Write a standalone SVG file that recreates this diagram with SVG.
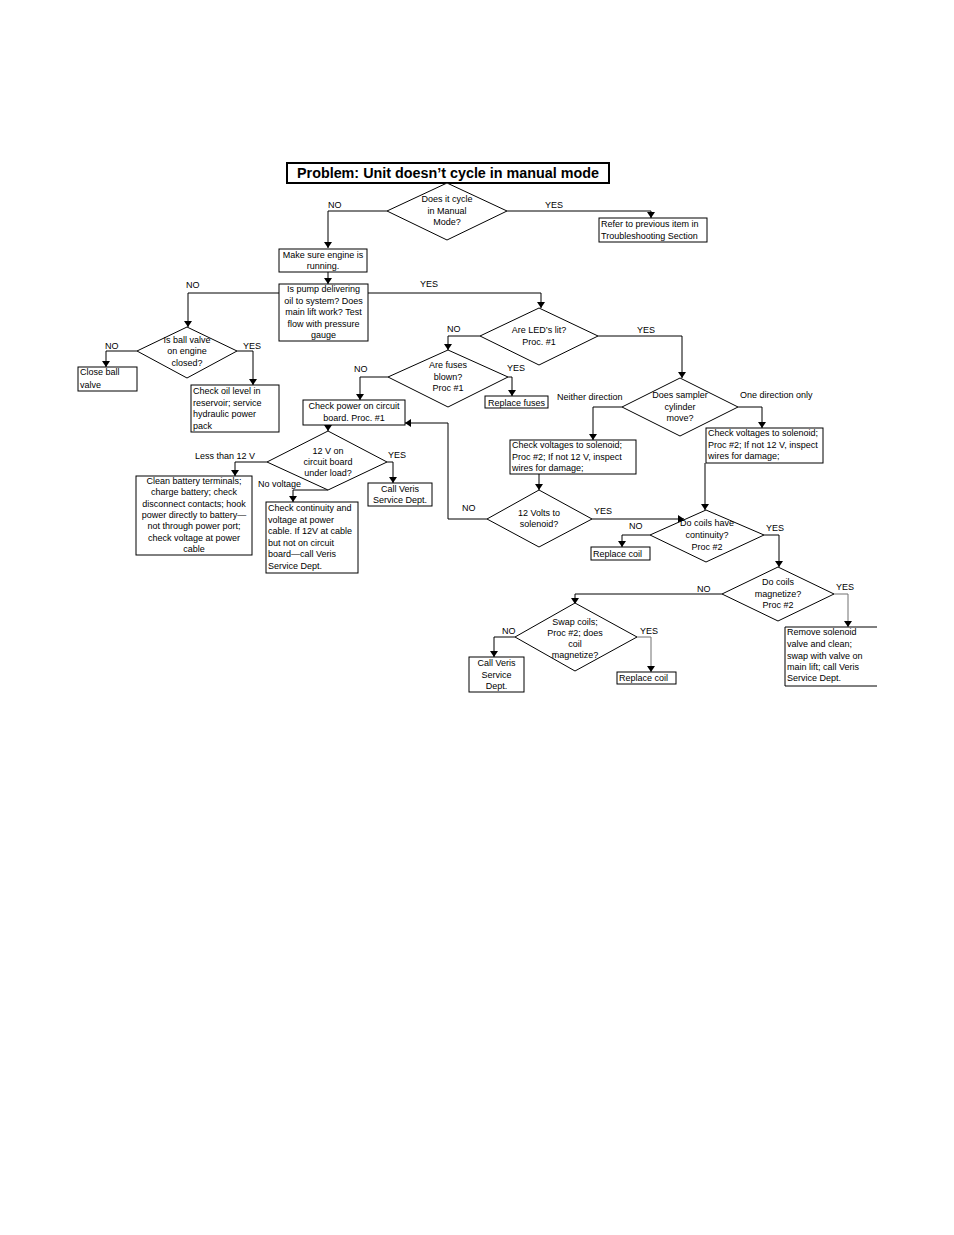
<svg xmlns="http://www.w3.org/2000/svg" width="954" height="1235" viewBox="0 0 954 1235">
<style>
text{font-family:"Liberation Sans",Arial,sans-serif;font-size:9px;fill:#000}
.c{text-anchor:middle}
.box,.dia{fill:#fff;stroke:#000;stroke-width:1}
.ln{fill:none;stroke:#000;stroke-width:1}
.gr{fill:none;stroke:#707070;stroke-width:1}
.title{font-size:14px;font-weight:bold}
</style>
<defs>
<marker id="ah" viewBox="0 0 6 8" refX="6" refY="4" markerWidth="6" markerHeight="8" markerUnits="userSpaceOnUse" orient="auto"><path d="M0,0 L6,4 L0,8 z" fill="#000"/></marker>
</defs>
<rect width="954" height="1235" fill="#fff"/>

<g id="connectors">
<path class="ln" d="M387,211 H328 V248" marker-end="url(#ah)"/>
<path class="ln" d="M507,211 H651 V218" marker-end="url(#ah)"/>
<path class="ln" d="M328,272 V284" marker-end="url(#ah)"/>
<path class="ln" d="M279,293 H188 V327" marker-end="url(#ah)"/>
<path class="ln" d="M368,293 H541 V308" marker-end="url(#ah)"/>
<path class="ln" d="M137,351 H106 V367" marker-end="url(#ah)"/>
<path class="ln" d="M237,351 H253 V385" marker-end="url(#ah)"/>
<path class="ln" d="M480,336 H448 V350" marker-end="url(#ah)"/>
<path class="ln" d="M598,336 H682 V378" marker-end="url(#ah)"/>
<path class="ln" d="M388,377 H360 V400" marker-end="url(#ah)"/>
<path class="ln" d="M508,377 H512 V396" marker-end="url(#ah)"/>
<path class="ln" d="M328,425 V431" marker-end="url(#ah)"/>
<path class="ln" d="M267,462 H235 V476" marker-end="url(#ah)"/>
<path class="ln" d="M387,462 H393 V483" marker-end="url(#ah)"/>
<path class="ln" d="M328,490 H293 V502" marker-end="url(#ah)"/>
<path class="ln" d="M622,407 H593 V440" marker-end="url(#ah)"/>
<path class="ln" d="M738,407 H762 V428" marker-end="url(#ah)"/>
<path class="ln" d="M539,474 V490" marker-end="url(#ah)"/>
<path class="ln" d="M487,519 H448 V423 H405" marker-end="url(#ah)"/>
<path class="ln" d="M592,519 H684" marker-end="url(#ah)"/>
<path class="ln" d="M705,463 V510" marker-end="url(#ah)"/>
<path class="ln" d="M650,535 H622 V547" marker-end="url(#ah)"/>
<path class="ln" d="M764,535 H779 V567" marker-end="url(#ah)"/>
<path class="ln" d="M722,594 H575 V604" marker-end="url(#ah)"/>
<path class="gr" d="M834,594 H848 V627" marker-end="url(#ah)"/>
<path class="ln" d="M515,637 H494 V657" marker-end="url(#ah)"/>
<path class="gr" d="M637,637 H651 V672" marker-end="url(#ah)"/>
<text x="328" y="208">NO</text>
<text x="545" y="208">YES</text>
<text x="186" y="288">NO</text>
<text x="420" y="287">YES</text>
<text x="105" y="349">NO</text>
<text x="243" y="349">YES</text>
<text x="447" y="332">NO</text>
<text x="637" y="333">YES</text>
<text x="354" y="372">NO</text>
<text x="507" y="371">YES</text>
<text x="195" y="459">Less than 12 V</text>
<text x="388" y="458">YES</text>
<text x="258" y="487">No voltage</text>
<text x="557" y="400">Neither direction</text>
<text x="740" y="398">One direction only</text>
<text x="462" y="511">NO</text>
<text x="594" y="514">YES</text>
<text x="629" y="529">NO</text>
<text x="766" y="531">YES</text>
<text x="697" y="592">NO</text>
<text x="836" y="590">YES</text>
<text x="502" y="634">NO</text>
<text x="640" y="634">YES</text>
</g>

<g id="title">
<rect x="287" y="163" width="322" height="20" fill="#fff" stroke="#000" stroke-width="2"/>
<text class="c title" x="448" y="178" textLength="302" lengthAdjust="spacingAndGlyphs">Problem:  Unit doesn’t cycle in manual mode</text>
</g>

<g id="d-cycle">
<polygon class="dia" points="447,183 507,211 447,240 387,211"/>
<text class="c" x="447" y="202">Does it cycle</text>
<text class="c" x="447" y="214">in Manual</text>
<text class="c" x="447" y="225">Mode?</text>
</g>

<g id="b-refer">
<rect class="box" x="599" y="218" width="108" height="24"/>
<text x="601" y="227">Refer to previous item in</text>
<text x="601" y="239">Troubleshooting Section</text>
</g>

<g id="b-engine">
<rect class="box" x="279" y="249" width="88" height="23"/>
<text class="c" x="323" y="258">Make sure engine is</text>
<text class="c" x="323" y="269">running.</text>
</g>

<g id="b-pump">
<rect class="box" x="279" y="284" width="89" height="57"/>
<text class="c" x="323.5" y="292">Is pump delivering</text>
<text class="c" x="323.5" y="303.5">oil to system? Does</text>
<text class="c" x="323.5" y="315">main lift work? Test</text>
<text class="c" x="323.5" y="326.5">flow with pressure</text>
<text class="c" x="323.5" y="338">gauge</text>
</g>

<g id="d-ball">
<polygon class="dia" points="187,327 237,351 187,378 137,351"/>
<text class="c" x="187" y="343">Is ball valve</text>
<text class="c" x="187" y="354">on engine</text>
<text class="c" x="187" y="366">closed?</text>
</g>

<g id="b-close">
<rect class="box" x="78" y="367" width="59" height="24"/>
<text x="80" y="375">Close ball</text>
<text x="80" y="388">valve</text>
</g>

<g id="b-oil">
<rect class="box" x="191" y="385" width="88" height="47"/>
<text x="193" y="394">Check oil level in</text>
<text x="193" y="405.5">reservoir; service</text>
<text x="193" y="417">hydraulic power</text>
<text x="193" y="428.5">pack</text>
</g>

<g id="d-led">
<polygon class="dia" points="539,308 598,336 539,365 480,336"/>
<text class="c" x="539" y="333">Are LED’s lit?</text>
<text class="c" x="539" y="345">Proc. #1</text>
</g>

<g id="d-fuse">
<polygon class="dia" points="448,350 508,377 448,407 388,377"/>
<text class="c" x="448" y="368">Are fuses</text>
<text class="c" x="448" y="380">blown?</text>
<text class="c" x="448" y="391">Proc #1</text>
</g>

<g id="b-fuses">
<rect class="box" x="485" y="396" width="63" height="12"/>
<text class="c" x="516.5" y="405.5">Replace fuses</text>
</g>

<g id="b-power">
<rect class="box" x="303" y="400" width="102" height="25"/>
<text class="c" x="354" y="409">Check power on circuit</text>
<text class="c" x="354" y="420.5">board.  Proc. #1</text>
</g>

<g id="d-12v">
<polygon class="dia" points="328,431 387,462 328,490 267,462"/>
<text class="c" x="328" y="454">12 V on</text>
<text class="c" x="328" y="465">circuit board</text>
<text class="c" x="328" y="476">under load?</text>
</g>

<g id="b-clean">
<rect class="box" x="136" y="476" width="116" height="79"/>
<text class="c" x="194" y="484">Clean battery terminals;</text>
<text class="c" x="194" y="495.3">charge battery; check</text>
<text class="c" x="194" y="506.6">disconnect contacts; hook</text>
<text class="c" x="194" y="517.9">power directly to battery—</text>
<text class="c" x="194" y="529.2">not through power port;</text>
<text class="c" x="194" y="540.5">check voltage at power</text>
<text class="c" x="194" y="551.8">cable</text>
</g>

<g id="b-call1">
<rect class="box" x="368" y="483" width="64" height="23"/>
<text class="c" x="400" y="492">Call Veris</text>
<text class="c" x="400" y="503">Service Dept.</text>
</g>

<g id="b-continuity">
<rect class="box" x="266" y="502" width="92" height="71"/>
<text x="268" y="511">Check continuity and</text>
<text x="268" y="522.5">voltage at power</text>
<text x="268" y="534">cable. If 12V at cable</text>
<text x="268" y="545.5">but not on circuit</text>
<text x="268" y="557">board—call Veris</text>
<text x="268" y="568.5">Service Dept.</text>
</g>

<g id="d-sampler">
<polygon class="dia" points="680,378 738,407 680,436 622,407"/>
<text class="c" x="680" y="398">Does sampler</text>
<text class="c" x="680" y="410">cylinder</text>
<text class="c" x="680" y="421">move?</text>
</g>

<g id="b-volt-left">
<rect class="box" x="510" y="440" width="126" height="34"/>
<text x="512" y="448">Check voltages to solenoid;</text>
<text x="512" y="460">Proc #2; If not 12 V, inspect</text>
<text x="512" y="471">wires for damage;</text>
</g>

<g id="b-volt-right">
<rect class="box" x="706" y="428" width="117" height="35"/>
<text x="708" y="436">Check voltages to solenoid;</text>
<text x="708" y="448">Proc #2; If not 12 V, inspect</text>
<text x="708" y="459">wires for damage;</text>
</g>

<g id="d-12volts">
<polygon class="dia" points="539,490 592,519 539,547 487,519"/>
<text class="c" x="539" y="516">12 Volts to</text>
<text class="c" x="539" y="527">solenoid?</text>
</g>

<g id="d-continuity">
<polygon class="dia" points="706,510 764,535 706,562 650,535"/>
<text class="c" x="707" y="526">Do coils have</text>
<text class="c" x="707" y="538">continuity?</text>
<text class="c" x="707" y="550">Proc #2</text>
</g>

<g id="b-replace1">
<rect class="box" x="591" y="547" width="59" height="13"/>
<text x="593" y="557">Replace coil</text>
</g>

<g id="d-magnetize">
<polygon class="dia" points="778,567 834,594 778,621 722,594"/>
<text class="c" x="778" y="585">Do coils</text>
<text class="c" x="778" y="597">magnetize?</text>
<text class="c" x="778" y="608">Proc #2</text>
</g>

<g id="b-remove">
<path d="M877,627 H785 V686 H877" fill="#fff" stroke="#000" stroke-width="1"/>
<text x="787" y="635">Remove solenoid</text>
<text x="787" y="647">valve and clean;</text>
<text x="787" y="659">swap with valve on</text>
<text x="787" y="670">main lift; call Veris</text>
<text x="787" y="681">Service Dept.</text>
</g>

<g id="d-swap">
<polygon class="dia" points="575,603 637,637 575,671 515,637"/>
<text class="c" x="575" y="625">Swap coils;</text>
<text class="c" x="575" y="636">Proc #2; does</text>
<text class="c" x="575" y="647">coil</text>
<text class="c" x="575" y="658">magnetize?</text>
</g>

<g id="b-call2">
<rect class="box" x="469" y="657" width="55" height="35"/>
<text class="c" x="496.5" y="666">Call Veris</text>
<text class="c" x="496.5" y="678">Service</text>
<text class="c" x="496.5" y="689">Dept.</text>
</g>

<g id="b-replace2">
<rect class="box" x="617" y="672" width="59" height="12"/>
<text x="619" y="681">Replace coil</text>
</g>
</svg>
